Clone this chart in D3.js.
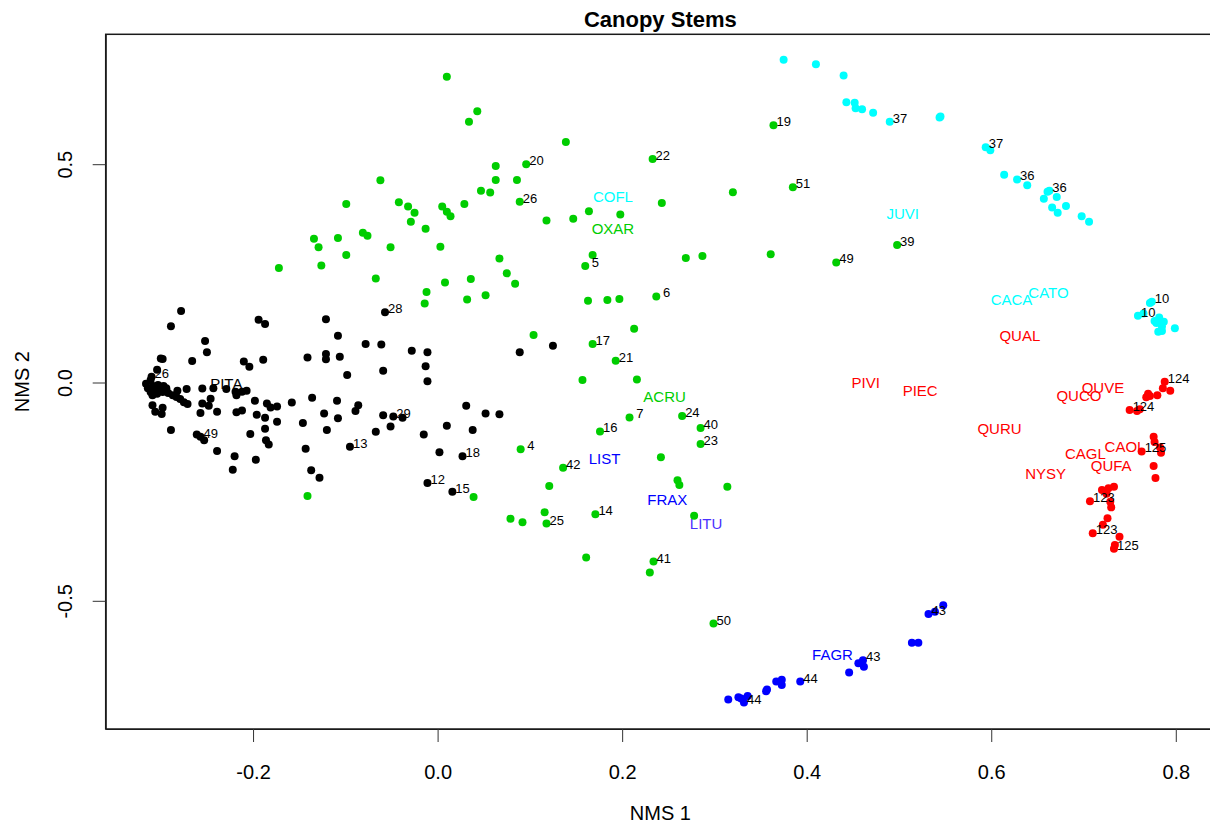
<!DOCTYPE html>
<html>
<head>
<meta charset="utf-8">
<script src="https://cdn.jsdelivr.net/npm/d3@7"></script>
<style>
  html, body { margin: 0; padding: 0; background: #fff; }
  svg { display: block; font-family: "Liberation Sans", Arial, sans-serif; }
  .site { white-space: pre; }
</style>
</head>
<body>
<svg id="chart" width="1210" height="824"></svg>
<script>
// NMS ordination of canopy stems: site scores (NMS 1, NMS 2) by cluster
const pitaSites = [
  [-0.278,0.164],[-0.289,0.129],[-0.194,0.144],[-0.187,0.134],[-0.121,0.145],[-0.057,0.161],
  [-0.108,0.107],[-0.078,0.088],[-0.061,0.087],[-0.028,0.073],[-0.011,0.069],[-0.252,0.095],
  [-0.250,0.069],[-0.300,0.055],[-0.298,0.054],[-0.266,0.049],[-0.210,0.048],[-0.204,0.036],
  [-0.189,0.052],[-0.141,0.057],[-0.121,0.065],[-0.121,0.053],[-0.106,0.059],[-0.013,0.037],
  [-0.059,0.027],[-0.098,0.017],[-0.011,0.003],[-0.304,0.029],[-0.310,0.013],[-0.311,0.006],
  [-0.316,-0.003],[-0.314,-0.013],[-0.311,-0.022],[-0.308,-0.008],[-0.306,-0.017],[-0.303,-0.006],
  [-0.301,-0.015],[-0.297,-0.008],[-0.294,-0.013],[-0.309,-0.029],[-0.304,-0.026],[-0.298,-0.022],
  [-0.292,-0.024],[-0.287,-0.029],[-0.283,-0.033],[-0.279,-0.038],[-0.275,-0.045],[-0.271,-0.049],
  [-0.282,-0.019],[-0.272,-0.015],[-0.255,-0.014],[-0.243,-0.013],[-0.229,-0.015],[-0.219,-0.021],
  [-0.218,-0.029],[-0.212,-0.021],[-0.207,-0.019],[-0.198,-0.042],[-0.185,-0.048],[-0.181,-0.057],
  [-0.174,-0.055],[-0.158,-0.046],[-0.136,-0.035],[-0.109,-0.042],[-0.086,-0.052],[-0.089,-0.065],
  [-0.246,-0.037],[-0.255,-0.048],[-0.248,-0.053],[-0.309,-0.052],[-0.298,-0.058],[-0.306,-0.067],
  [-0.299,-0.072],[-0.257,-0.070],[-0.239,-0.067],[-0.218,-0.068],[-0.212,-0.064],[-0.196,-0.074],
  [-0.187,-0.081],[-0.174,-0.090],[-0.187,-0.106],[-0.146,-0.093],[-0.123,-0.071],[-0.108,-0.082],
  [-0.120,-0.109],[-0.059,-0.075],[-0.048,-0.078],[-0.038,-0.081],[-0.051,-0.101],[-0.067,-0.113],
  [-0.015,-0.119],[-0.289,-0.109],[-0.261,-0.119],[-0.257,-0.124],[-0.253,-0.132],[-0.203,-0.118],
  [-0.186,-0.132],[-0.183,-0.142],[-0.095,-0.147],[-0.143,-0.152],[-0.239,-0.157],[-0.220,-0.169],
  [-0.197,-0.177],[-0.222,-0.200],[-0.137,-0.201],[-0.128,-0.218],[-0.011,-0.230],[0.089,0.069],
  [0.125,0.084],[0.031,-0.053],[0.052,-0.071],[0.067,-0.073],[0.010,-0.099],[0.038,-0.109],
  [0.002,-0.160],[0.027,-0.169],[0.016,-0.250]
];

const hardwoodSites = [
  [0.010,0.700],[0.043,0.621],[0.034,0.597],[0.139,0.551],[0.233,0.512],[0.096,0.500],
  [0.063,0.496],[0.063,0.464],[0.086,0.464],[0.047,0.439],[0.057,0.435],[0.089,0.414],
  [0.029,0.409],[0.005,0.403],[0.010,0.391],[0.014,0.381],[0.243,0.411],[0.320,0.436],
  [0.118,0.371],[0.147,0.375],[0.164,0.392],[0.198,0.385],[-0.013,0.352],[0.003,0.311],
  [0.067,0.284],[0.168,0.292],[0.160,0.267],[0.269,0.285],[0.287,0.290],[0.075,0.250],
  [0.084,0.226],[0.036,0.237],[0.008,0.229],[-0.012,0.207],[-0.014,0.181],[0.052,0.200],
  [0.032,0.190],[0.163,0.187],[0.184,0.189],[0.197,0.191],[0.237,0.197],[0.213,0.123],
  [0.104,0.109],[0.168,0.088],[0.193,0.050],[0.157,0.006],[0.216,0.007],[0.208,-0.080],
  [0.265,-0.077],[0.285,-0.104],[0.285,-0.141],[0.176,-0.112],[0.090,-0.153],[0.242,-0.171],
  [0.136,-0.195],[0.121,-0.237],[0.260,-0.224],[0.262,-0.235],[0.314,-0.239],[0.039,-0.262],
  [0.116,-0.297],[0.118,-0.323],[0.079,-0.312],[0.092,-0.320],[0.171,-0.302],[0.278,-0.305],
  [0.161,-0.401],[0.234,-0.410],[0.230,-0.435],[0.299,-0.552],[0.364,0.589],[0.385,0.447],
  [0.498,0.315],[0.432,0.275],[0.361,0.294],[-0.062,0.463],[-0.099,0.409],[-0.042,0.413],
  [-0.032,0.403],[-0.025,0.389],[-0.029,0.368],[-0.134,0.329],[-0.129,0.310],[-0.108,0.331],
  [-0.081,0.343],[-0.076,0.336],[-0.051,0.310],[-0.099,0.292],[-0.172,0.262],[-0.126,0.268],
  [-0.067,0.238],[-0.141,-0.260]
];

const juniperSites = [
  [0.375,0.739],[0.410,0.729],[0.440,0.703],[0.443,0.642],[0.452,0.641],[0.453,0.628],
  [0.460,0.626],[0.472,0.618],[0.490,0.597],[0.544,0.607],[0.545,0.609],[0.594,0.539],
  [0.599,0.532],[0.614,0.476],[0.628,0.465],[0.639,0.452],[0.663,0.439],[0.661,0.437],
  [0.671,0.425],[0.657,0.421],[0.666,0.401],[0.681,0.404],[0.672,0.389],[0.698,0.381],
  [0.706,0.368],[0.774,0.185],[0.772,0.182],[0.759,0.153],[0.765,0.158],[0.782,0.149],
  [0.787,0.139],[0.779,0.136],[0.785,0.128],[0.799,0.124],[0.781,0.116],[0.777,0.141],
  [0.785,0.118]
];

const oakSites = [
  [0.788,0.002],[0.786,-0.013],[0.794,-0.019],[0.780,-0.029],[0.772,-0.031],[0.768,-0.034],
  [0.770,-0.026],[0.750,-0.063],[0.758,-0.065],[0.761,-0.061],[0.776,-0.124],[0.777,-0.136],
  [0.763,-0.158],[0.783,-0.149],[0.784,-0.161],[0.776,-0.191],[0.778,-0.219],[0.733,-0.239],
  [0.727,-0.242],[0.720,-0.246],[0.725,-0.255],[0.707,-0.272],[0.729,-0.273],[0.730,-0.286],
  [0.726,-0.311],[0.721,-0.326],[0.710,-0.345],[0.739,-0.353],[0.733,-0.381],[0.734,-0.372]
];

const beechSites = [
  [0.315,-0.726],[0.326,-0.721],[0.332,-0.733],[0.336,-0.718],[0.329,-0.724],[0.357,-0.703],
  [0.356,-0.707],[0.367,-0.685],[0.373,-0.681],[0.373,-0.693],[0.393,-0.685],[0.446,-0.664],
  [0.456,-0.643],[0.461,-0.636],[0.462,-0.651],[0.514,-0.596],[0.521,-0.596],[0.532,-0.530],
  [0.539,-0.525],[0.548,-0.510]
];

// plot ID labels beside selected sites
const siteLabels = [
  ["28",-0.057,0.161],["26",-0.310,0.013],["29",-0.048,-0.078],["49",-0.257,-0.124],
  ["13",-0.095,-0.147],["12",-0.011,-0.230],["18",0.027,-0.169],["15",0.016,-0.250],
  ["20",0.096,0.500],["22",0.233,0.512],["26",0.089,0.414],[" 5",0.160,0.267],
  [" 6",0.237,0.197],["17",0.168,0.088],["21",0.193,0.050],[" 7",0.208,-0.080],
  ["24",0.265,-0.077],["40",0.285,-0.104],["23",0.285,-0.141],["16",0.176,-0.112],
  [" 4",0.090,-0.153],["42",0.136,-0.195],["25",0.118,-0.323],["14",0.171,-0.302],
  ["41",0.234,-0.410],["50",0.299,-0.552],["19",0.364,0.589],["51",0.385,0.447],
  ["39",0.498,0.315],["49",0.432,0.275],
  ["37",0.490,0.597],["37",0.594,0.539],["36",0.628,0.465],["36",0.663,0.439],
  ["10",0.774,0.185],["10",0.759,0.153],
  ["124",0.788,0.002],["124",0.750,-0.063],["125",0.763,-0.158],["123",0.707,-0.272],
  ["123",0.710,-0.345],["125",0.733,-0.381],
  ["44",0.332,-0.733],["44",0.393,-0.685],["43",0.461,-0.636],["43",0.532,-0.530]
];

// species scores
const speciesCodes = ["PITA","COFL","OXAR","JUVI","CACA","CATO","QUAL","PIVI","PIEC","QUVE",
  "QUCO","QURU","CAGL","CAOL","QUFA","NYSY","ACRU","LIST","FRAX","LITU","FAGR"];
const speciesNMS1 = [-0.229,0.190,0.190,0.504,0.622,0.662,0.631,0.464,0.523,0.721,
  0.695,0.609,0.702,0.745,0.730,0.659,0.246,0.181,0.249,0.291,0.428];
const speciesNMS2 = [-0.003,0.425,0.352,0.386,0.191,0.207,0.107,0.001,-0.019,-0.011,
  -0.030,-0.105,-0.162,-0.147,-0.189,-0.208,-0.033,-0.175,-0.269,-0.324,-0.623];
const speciesGroup = ["pita","juniper","hardwood","juniper","juniper","juniper","oak","oak","oak","oak",
  "oak","oak","oak","oak","oak","oak","hardwood","beech","beech","litu","beech"];

const xTicks = [-0.2, 0.0, 0.2, 0.4, 0.6, 0.8];
const xTickLabels = ["-0.2", "0.0", "0.2", "0.4", "0.6", "0.8"];
const yTicks = [-0.5, 0.0, 0.5];
const yTickLabels = ["-0.5", "0.0", "0.5"];

const colors = {
  pita: "#000000", hardwood: "#00CD00", juniper: "#00FFFF",
  oak: "#FF0000", beech: "#0000FF", litu: "#4a30ff"
};

const W = 1210, H = 824;
const plot = { left: 105.7, right: 1215, top: 34.3, bottom: 729 };

const x = d3.scaleLinear().domain([-0.3597, 0.8425]).range([plot.left, plot.right]);
const y = d3.scaleLinear().domain([-0.7936, 0.7975]).range([plot.bottom, plot.top]);

const svg = d3.select("#chart");
svg.append("rect").attr("width", W).attr("height", H).attr("fill", "#fff");

// points
const groups = [
  ["pita", pitaSites], ["hardwood", hardwoodSites], ["juniper", juniperSites],
  ["oak", oakSites], ["beech", beechSites]
];
const pts = svg.append("g");
groups.forEach(([key, arr]) => {
  pts.append("g").selectAll("circle").data(arr).join("circle")
    .attr("cx", d => x(d[0])).attr("cy", d => y(d[1]))
    .attr("r", 4).attr("fill", colors[key]);
});

// species labels
svg.append("g").selectAll("text").data(speciesCodes).join("text")
  .attr("x", (d, i) => x(speciesNMS1[i]))
  .attr("y", (d, i) => y(speciesNMS2[i]))
  .attr("text-anchor", "middle").attr("dominant-baseline", "central")
  .attr("font-size", 15)
  .attr("fill", (d, i) => colors[speciesGroup[i]])
  .text(d => d);

// site ID labels
svg.append("g").selectAll("text").data(siteLabels).join("text")
  .attr("class", "site")
  .attr("x", d => x(d[1]) + 3)
  .attr("y", d => y(d[2]) - 3.5)
  .attr("dominant-baseline", "central")
  .attr("font-size", 13).attr("fill", "#000")
  .text(d => d[0]);

// frame
svg.append("rect")
  .attr("x", plot.left).attr("y", plot.top)
  .attr("width", plot.right - plot.left).attr("height", plot.bottom - plot.top)
  .attr("fill", "none").attr("stroke", "#1a1a1a").attr("stroke-width", 1.5);

// x axis
const xAxis = d3.axisBottom(x).tickValues(xTicks).tickSize(13).tickSizeOuter(0)
  .tickFormat((d, i) => xTickLabels[i]);
const gx = svg.append("g").attr("transform", `translate(0,${plot.bottom})`).call(xAxis);
gx.select(".domain").attr("stroke", "#1a1a1a");
gx.selectAll(".tick line").attr("stroke", "#333");
gx.selectAll(".tick text").attr("font-size", 20).attr("fill", "#000")
  .attr("font-family", "Liberation Sans, Arial, sans-serif")
  .attr("y", 0).attr("dy", null).attr("transform", "translate(0,42.7)")
  .attr("dominant-baseline", "central");

// y axis
const yAxis = d3.axisLeft(y).tickValues(yTicks).tickSize(13).tickSizeOuter(0)
  .tickFormat((d, i) => yTickLabels[i]);
const gy = svg.append("g").attr("transform", `translate(${plot.left},0)`).call(yAxis);
gy.select(".domain").attr("stroke", "#1a1a1a");
gy.selectAll(".tick line").attr("stroke", "#333");
gy.selectAll(".tick text").attr("font-size", 20).attr("fill", "#000")
  .attr("font-family", "Liberation Sans, Arial, sans-serif")
  .attr("x", 0).attr("dy", null)
  .attr("text-anchor", "middle").attr("dominant-baseline", "central")
  .attr("transform", "translate(-40.7,0) rotate(-90)");

// titles
svg.append("text").attr("x", (plot.left + plot.right) / 2).attr("y", 19)
  .attr("text-anchor", "middle").attr("dominant-baseline", "central")
  .attr("font-size", 22).attr("font-weight", "bold").text("Canopy Stems");
svg.append("text").attr("x", (plot.left + plot.right) / 2).attr("y", 813)
  .attr("text-anchor", "middle").attr("dominant-baseline", "central")
  .attr("font-size", 20).text("NMS 1");
svg.append("text")
  .attr("transform", `translate(22,${(plot.top + plot.bottom) / 2}) rotate(-90)`)
  .attr("text-anchor", "middle").attr("dominant-baseline", "central")
  .attr("font-size", 20).text("NMS 2");
</script>
</body>
</html>
